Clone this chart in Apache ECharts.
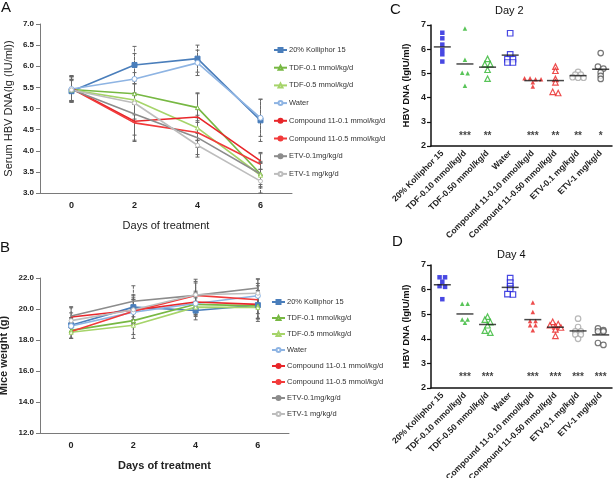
<!DOCTYPE html>
<html><head><meta charset="utf-8">
<script src="https://cdn.jsdelivr.net/npm/echarts@6/dist/echarts.min.js"></script>
<style>html,body{margin:0;padding:0;background:#fff}#c{width:615px;height:478px}</style>
</head><body><div id="c"></div>
<script>
// ---------- Panels A & B: categories ----------
const days = ['0', '2', '4', '6'];
const lineNames = ['20% Kolliphor 15', 'TDF-0.1 mmol/kg/d', 'TDF-0.5 mmol/kg/d', 'Water',
  'Compound 11-0.1 mmol/kg/d', 'Compound 11-0.5 mmol/kg/d', 'ETV-0.1mg/kg/d', 'ETV-1 mg/kg/d'];

// Panel A: serum HBV DNA (lg IU/ml), mean per day
const hbvKolliphor = [5.41, 6.03, 6.18, 4.72];
const hbvTdf01 = [5.45, 5.35, 5.02, 3.45];
const hbvTdf05 = [5.44, 5.20, 4.54, 3.42];
const hbvWater = [5.46, 5.70, 6.08, 4.78];
const hbvCmpd01 = [5.48, 4.70, 4.80, 3.76];
const hbvCmpd05 = [5.47, 4.66, 4.43, 3.68];
const hbvEtv01 = [5.45, 4.87, 4.31, 3.45];
const hbvEtv1 = [5.44, 5.13, 4.13, 3.28];
// Panel A: error (SD)
const hbvErrKolliphor = [0.25, 0.44, 0.32, 0.50];
const hbvErrTdf01 = [0.30, 0.50, 0.35, 0.30];
const hbvErrTdf05 = [0.25, 0.45, 0.30, 0.30];
const hbvErrWater = [0.30, 0.60, 0.30, 0.44];
const hbvErrCmpd01 = [0.30, 0.45, 0.55, 0.20];
const hbvErrCmpd05 = [0.30, 0.44, 0.35, 0.25];
const hbvErrEtv01 = [0.30, 0.50, 0.40, 0.25];
const hbvErrEtv1 = [0.25, 0.45, 0.28, 0.28];

// Panel B: mice weight (g)
const wKolliphor = [18.95, 20.12, 19.90, 20.25];
const wTdf01 = [18.62, 19.25, 20.30, 20.20];
const wTdf05 = [18.50, 18.95, 20.12, 20.10];
const wWater = [18.90, 19.80, 20.35, 20.85];
const wCmpd01 = [19.48, 19.92, 20.45, 20.30];
const wCmpd05 = [18.55, 19.85, 20.88, 20.60];
const wEtv01 = [19.55, 20.50, 20.88, 21.35];
const wEtv1 = [19.25, 19.95, 20.92, 21.02];
const wErrKolliphor = [0.50, 0.80, 0.60, 0.90];
const wErrTdf01 = [0.50, 0.90, 0.70, 0.80];
const wErrTdf05 = [0.40, 0.85, 0.60, 0.90];
const wErrWater = [0.50, 0.80, 0.70, 0.80];
const wErrCmpd01 = [0.60, 0.80, 0.70, 0.90];
const wErrCmpd05 = [0.45, 0.75, 0.80, 0.90];
const wErrEtv01 = [0.60, 1.00, 0.90, 0.60];
const wErrEtv1 = [0.50, 0.90, 1.00, 0.90];

// ---------- Panels C & D ----------
const groupLabels = ['20% Kolliphor 15', 'TDF-0.10 mmol/kg/d', 'TDF-0.50 mmol/kg/d', 'Water',
  'Compound 11-0.10 mmol/kg/d', 'Compound 11-0.50 mmol/kg/d', 'ETV-0.1 mg/kg/d', 'ETV-1 mg/kg/d'];
// Day 2 individual values
const d2Kolliphor = [6.68, 6.45, 6.19, 5.97, 5.79, 5.49];
const d2Tdf010 = [6.86, 5.56, 5.03, 5.01, 4.49];
const d2Tdf050 = [5.60, 5.38, 5.38, 5.15, 4.78];
const d2Water = [6.66, 5.79, 5.59, 5.59, 5.45, 5.45];
const d2Cmpd010 = [4.80, 4.76, 4.76, 4.80, 4.63, 4.46];
const d2Cmpd050 = [5.28, 5.11, 4.77, 4.63, 4.19, 4.24];
const d2Etv01 = [5.06, 4.95, 4.95, 4.82, 4.82, 4.84];
const d2Etv1 = [5.84, 5.28, 5.20, 5.04, 4.90, 4.77];
const d2Stars = ['', '***', '**', '', '***', '**', '**', '*'];
// Day 4 individual values
const d4Kolliphor = [6.50, 6.50, 6.32, 6.14, 6.11, 5.61];
const d4Tdf010 = [5.42, 5.42, 4.78, 4.78, 4.65];
const d4Tdf050 = [4.90, 4.78, 4.68, 4.55, 4.33, 4.25];
const d4Water = [6.47, 6.28, 6.14, 6.03, 5.80, 5.82];
const d4Cmpd010 = [5.48, 5.09, 4.72, 4.72, 4.55, 4.55, 4.35];
const d4Cmpd050 = [4.69, 4.60, 4.55, 4.50, 4.46, 4.38, 4.12];
const d4Etv01 = [4.82, 4.48, 4.30, 4.30, 4.17, 4.17, 4.00];
const d4Etv1 = [4.42, 4.35, 4.30, 4.30, 3.83, 3.75];
const d4Stars = ['', '***', '***', '', '***', '***', '***', '***'];

// ---------- styles ----------
const FONT = 'Liberation Sans, Arial, sans-serif';
const lineStyles = [
  {color: '#4a7ebb', symbol: 'rect', size: 5, fill: '#4a7ebb'},
  {color: '#77b843', symbol: 'triangle', size: 4, fill: '#ffffff'},
  {color: '#a6d46a', symbol: 'triangle', size: 4, fill: '#ffffff'},
  {color: '#8eb4e3', symbol: 'circle', size: 5, fill: '#ffffff'},
  {color: '#e8262a', symbol: 'none', size: 0, fill: '#e8262a'},
  {color: '#f23a3a', symbol: 'none', size: 0, fill: '#f23a3a'},
  {color: '#8c8c8c', symbol: 'none', size: 0, fill: '#8c8c8c'},
  {color: '#bdbdbd', symbol: 'circle', size: 4, fill: '#ffffff'}
];
const groupStyles = [
  {color: '#1a1adb', symbol: 'rect', filled: true},
  {color: '#2fb52f', symbol: 'triangle', filled: true},
  {color: '#2fb52f', symbol: 'triangle', filled: false},
  {color: '#1a1adb', symbol: 'rect', filled: false},
  {color: '#e82020', symbol: 'triangle', filled: true},
  {color: '#e82020', symbol: 'triangle', filled: false},
  {color: '#a6a6a6', symbol: 'circle', filled: false},
  {color: '#555555', symbol: 'circle', filled: false}
];

const gridA = {left: 40, right: 323, top: 24, bottom: 285, outerBoundsMode: 'none'};
const gridB = {left: 40, right: 326, top: 278, bottom: 45, outerBoundsMode: 'none'};
const gridC = {left: 431, right: 3, top: 25, bottom: 332, outerBoundsMode: 'none'};
const gridD = {left: 431, right: 3, top: 265, bottom: 90, outerBoundsMode: 'none'};
const H = 478;

const hbvMeans = [hbvKolliphor, hbvTdf01, hbvTdf05, hbvWater, hbvCmpd01, hbvCmpd05, hbvEtv01, hbvEtv1];
const hbvErrs = [hbvErrKolliphor, hbvErrTdf01, hbvErrTdf05, hbvErrWater, hbvErrCmpd01, hbvErrCmpd05, hbvErrEtv01, hbvErrEtv1];
const wMeans = [wKolliphor, wTdf01, wTdf05, wWater, wCmpd01, wCmpd05, wEtv01, wEtv1];
const wErrs = [wErrKolliphor, wErrTdf01, wErrTdf05, wErrWater, wErrCmpd01, wErrCmpd05, wErrEtv01, wErrEtv1];
const d2Groups = [d2Kolliphor, d2Tdf010, d2Tdf050, d2Water, d2Cmpd010, d2Cmpd050, d2Etv01, d2Etv1];
const d4Groups = [d4Kolliphor, d4Tdf010, d4Tdf050, d4Water, d4Cmpd010, d4Cmpd050, d4Etv01, d4Etv1];

function errorBars(axisIdx, means, errs) {
  return {
    type: 'custom', xAxisIndex: axisIdx, yAxisIndex: axisIdx, z: 1, silent: true,
    renderItem: function (params, api) {
      const x = api.value(0);
      const lo = api.coord([x, api.value(1)]);
      const hi = api.coord([x, api.value(2)]);
      const st = {stroke: '#666666', lineWidth: 1};
      return {type: 'group', children: [
        {type: 'line', shape: {x1: lo[0], y1: lo[1], x2: hi[0], y2: hi[1]}, style: Object.assign({lineDash: [3, 1]}, st)},
        {type: 'line', shape: {x1: lo[0] - 2, y1: lo[1], x2: lo[0] + 2, y2: lo[1]}, style: st},
        {type: 'line', shape: {x1: hi[0] - 2, y1: hi[1], x2: hi[0] + 2, y2: hi[1]}, style: st}
      ]};
    },
    data: means.map((m, i) => [i, m - errs[i], m + errs[i]])
  };
}

function lineSeries(axisIdx, means) {
  return means.map((arr, k) => {
    const s = lineStyles[k];
    return {
      name: lineNames[k], type: 'line', xAxisIndex: axisIdx, yAxisIndex: axisIdx, z: 3,
      data: arr, symbol: s.symbol, symbolSize: s.size, showSymbol: s.symbol !== 'none',
      lineStyle: {color: s.color, width: 1.6},
      itemStyle: {color: s.fill, borderColor: s.color, borderWidth: 1}
    };
  });
}

// simple symmetric beeswarm: bins of near-equal values spread left/right
function swarmOffsets(values, pxPerUnit, thresholdPx, spacingPx) {
  const order = values.map((v, i) => i).sort((a, b) => values[b] - values[a]);
  const off = new Array(values.length).fill(0);
  let bin = [];
  const flush = () => {
    const n = bin.length;
    bin.forEach((id, k) => { off[id] = (k - (n - 1) / 2) * spacingPx; });
    bin = [];
  };
  order.forEach(id => {
    if (bin.length && (values[bin[0]] - values[id]) * pxPerUnit > thresholdPx) flush();
    bin.push(id);
  });
  flush();
  return off;
}

function dotSeries(axisIdx, groups, stars, grid) {
  const pxPerUnit = (H - grid.top - grid.bottom) / 5;
  const out = [];
  groups.forEach((vals, g) => {
    const st = groupStyles[g];
    const off = swarmOffsets(vals, pxPerUnit, 2.6, 5.5);
    out.push({
      type: 'scatter', xAxisIndex: axisIdx, yAxisIndex: axisIdx, z: 3,
      symbol: st.symbol, symbolSize: st.filled ? 4.5 : 5.5,
      itemStyle: {color: st.filled ? st.color : '#ffffff', borderColor: st.color, borderWidth: st.filled ? 0 : 1.2},
      data: vals.map((v, k) => ({value: [g, v], symbolOffset: [off[k], 0]}))
    });
  });
  // group mean lines
  out.push({
    type: 'scatter', xAxisIndex: axisIdx, yAxisIndex: axisIdx, z: 4,
    symbol: 'rect', symbolSize: [17, 1.5], itemStyle: {color: '#1a1a1a'},
    data: groups.map((vals, g) => [g, vals.reduce((a, b) => a + b, 0) / vals.length])
  });
  // significance stars
  out.push({
    type: 'scatter', xAxisIndex: axisIdx, yAxisIndex: axisIdx, z: 5,
    symbolSize: 1, itemStyle: {color: 'rgba(0,0,0,0)'},
    label: {show: true, position: 'inside', formatter: p => stars[p.dataIndex], fontSize: 10, fontWeight: 'bold', color: '#111', fontFamily: FONT},
    data: stars.map((s, g) => [g, 2.42])
  });
  return out;
}

const tickLabel = {fontFamily: FONT, fontWeight: 'bold', color: '#222'};
function lineXAxis(grid, name) {
  return {
    type: 'category', gridIndex: grid, data: days, boundaryGap: true,
    name: name, nameLocation: 'middle', nameGap: 27,
    nameTextStyle: {fontFamily: FONT, fontSize: 11, color: '#222', fontWeight: grid === 1 ? 'bold' : 'normal'},
    axisLine: {lineStyle: {color: '#7a7a7a', width: 1}},
    axisTick: {lineStyle: {color: '#7a7a7a'}, length: 4},
    axisLabel: Object.assign({fontSize: 9, margin: 8}, tickLabel)
  };
}
function lineYAxis(grid, name, min, max, interval, gap) {
  return {
    type: 'value', gridIndex: grid, min: min, max: max, interval: interval,
    name: name, nameLocation: 'middle', nameGap: gap,
    nameTextStyle: {fontFamily: FONT, fontSize: 11, color: '#222', fontWeight: grid === 1 ? 'bold' : 'normal'},
    axisLine: {show: true, lineStyle: {color: '#7a7a7a', width: 1}},
    axisTick: {show: true, lineStyle: {color: '#7a7a7a'}, length: 4},
    splitLine: {show: false},
    axisLabel: Object.assign({fontSize: 8, margin: 6, formatter: v => v.toFixed(1)}, tickLabel)
  };
}
function dotXAxis(grid) {
  return {
    type: 'category', gridIndex: grid, data: groupLabels, boundaryGap: true,
    axisLine: {lineStyle: {color: '#111', width: 1.5}},
    axisTick: {alignWithLabel: true, lineStyle: {color: '#111', width: 1.2}, length: 4},
    axisLabel: Object.assign({fontSize: 8.5, rotate: 45, interval: 0, margin: 6}, tickLabel)
  };
}
function dotYAxis(grid) {
  return {
    type: 'value', gridIndex: grid, min: 2, max: 7, interval: 1,
    name: 'HBV DNA (lgIU/ml)', nameLocation: 'middle', nameGap: 20,
    nameTextStyle: {fontFamily: FONT, fontSize: 9.5, fontWeight: 'bold', color: '#111'},
    axisLine: {show: true, lineStyle: {color: '#111', width: 1.5}},
    axisTick: {show: true, lineStyle: {color: '#111', width: 1.2}, length: 4},
    splitLine: {show: false},
    axisLabel: Object.assign({fontSize: 9, margin: 5}, tickLabel)
  };
}

const legendCommon = {
  orient: 'vertical', data: lineNames, itemWidth: 13, itemHeight: 5, itemGap: 7.7,
  textStyle: {fontFamily: FONT, fontSize: 7.5, color: '#333', lineHeight: 10, padding: [0, 0, 0, -3]},
  selectedMode: false
};

const panelLetter = (txt, x, y) => ({type: 'text', left: x, top: y, style: {text: txt, font: '15px ' + FONT, fill: '#111'}});
const dayTitle = (txt, x, y) => ({type: 'text', left: x, top: y, style: {text: txt, font: '11px ' + FONT, fill: '#111'}});

const chart = echarts.init(document.getElementById('c'), null, {renderer: 'canvas'});
chart.setOption({
  animation: false,
  backgroundColor: '#ffffff',
  textStyle: {fontFamily: FONT},
  grid: [gridA, gridB, gridC, gridD],
  xAxis: [lineXAxis(0, 'Days of treatment'), lineXAxis(1, 'Days of treatment'), dotXAxis(2), dotXAxis(3)],
  yAxis: [
    lineYAxis(0, 'Serum HBV DNA(lg (IU/ml))', 3, 7, 0.5, 26),
    lineYAxis(1, 'Mice weight (g)', 12, 22, 2, 31),
    dotYAxis(2), dotYAxis(3)
  ],
  legend: [
    Object.assign({left: 268, top: 40}, legendCommon),
    Object.assign({}, legendCommon, {left: 266, top: 292, itemGap: 6})
  ],
  graphic: [
    panelLetter('A', 1, 0), panelLetter('B', 0, 240),
    panelLetter('C', 390, 2), panelLetter('D', 392, 234),
    dayTitle('Day 2', 495, 5), dayTitle('Day 4', 497, 249)
  ],
  series: [].concat(
    hbvMeans.map((m, k) => errorBars(0, m, hbvErrs[k])),
    lineSeries(0, hbvMeans),
    wMeans.map((m, k) => errorBars(1, m, wErrs[k])),
    lineSeries(1, wMeans),
    dotSeries(2, d2Groups, d2Stars, gridC),
    dotSeries(3, d4Groups, d4Stars, gridD)
  )
});
</script>
</body></html>
